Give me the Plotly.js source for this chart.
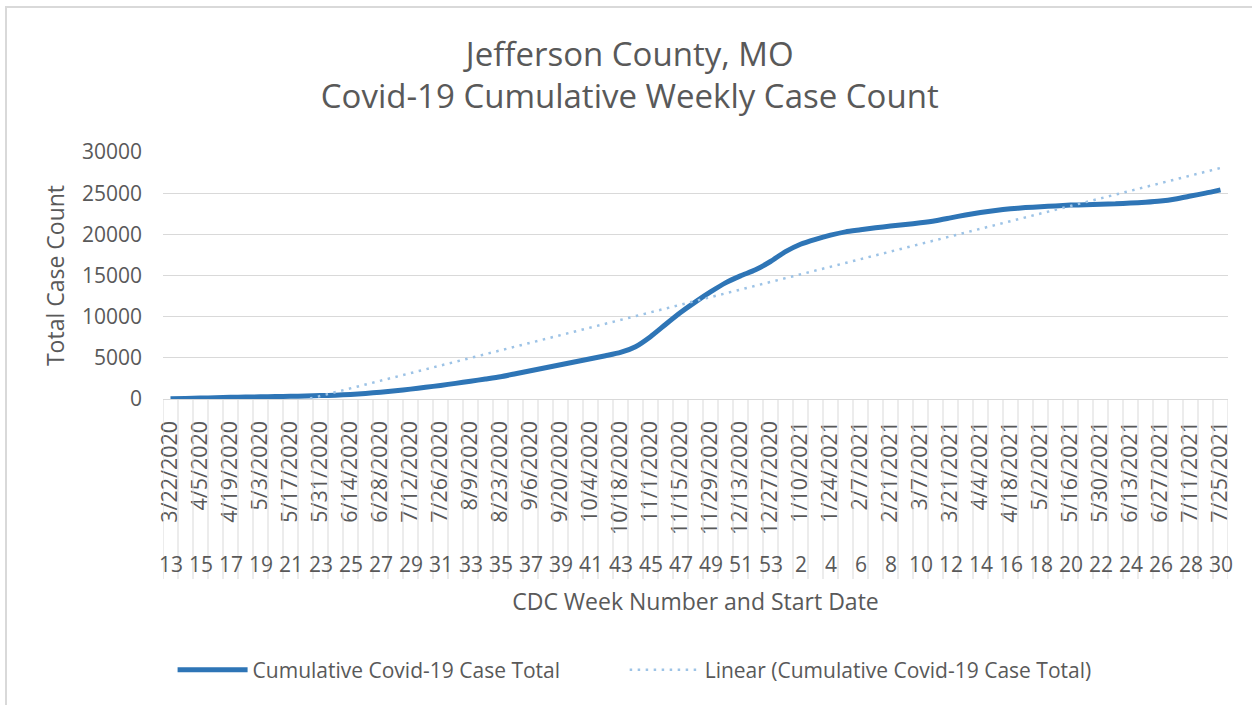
<!DOCTYPE html>
<html>
<head>
<meta charset="utf-8">
<script src="https://cdn.plot.ly/plotly-3.0.1.min.js"></script>
<style>
  html, body { margin: 0; padding: 0; background: #ffffff; overflow: hidden; }
  #chart { width: 1252px; height: 705px; }
  #frame { position: absolute; left: 5px; top: 6px; width: 1270px; height: 720px;
           border: 2px solid #d9d9d9; pointer-events: none; box-sizing: border-box; }
</style>
</head>
<body>
<div id="chart"></div>
<div id="frame"></div>
<script>
// ---- data ----
const startDates = [
  '3/22/2020','3/29/2020','4/5/2020','4/12/2020','4/19/2020','4/26/2020','5/3/2020','5/10/2020',
  '5/17/2020','5/24/2020','5/31/2020','6/7/2020','6/14/2020','6/21/2020','6/28/2020','7/5/2020',
  '7/12/2020','7/19/2020','7/26/2020','8/2/2020','8/9/2020','8/16/2020','8/23/2020','8/30/2020',
  '9/6/2020','9/13/2020','9/20/2020','9/27/2020','10/4/2020','10/11/2020','10/18/2020','10/25/2020',
  '11/1/2020','11/8/2020','11/15/2020','11/22/2020','11/29/2020','12/6/2020','12/13/2020','12/20/2020',
  '12/27/2020',
  '1/3/2021','1/10/2021','1/17/2021','1/24/2021','1/31/2021','2/7/2021','2/14/2021','2/21/2021',
  '2/28/2021','3/7/2021','3/14/2021','3/21/2021','3/28/2021','4/4/2021','4/11/2021','4/18/2021',
  '4/25/2021','5/2/2021','5/9/2021','5/16/2021','5/23/2021','5/30/2021','6/6/2021','6/13/2021',
  '6/20/2021','6/27/2021','7/4/2021','7/11/2021','7/18/2021','7/25/2021'
];
const cdcWeeks = [
  13,14,15,16,17,18,19,20,21,22,23,24,25,26,27,28,29,30,31,32,33,34,35,36,37,38,39,40,
  41,42,43,44,45,46,47,48,49,50,51,52,53,
  1,2,3,4,5,6,7,8,9,10,11,12,13,14,15,16,17,18,19,20,21,22,23,24,25,26,27,28,29,30
];
const cumulativeCases = [
  30,60,110,160,200,230,260,290,320,360,
  410,470,560,680,830,1000,1200,1420,1650,1900,
  2160,2430,2710,3070,3440,3800,4160,4520,4890,5250,
  5650,6350,7570,9050,10500,11800,13000,14100,14950,15700,
  16700,17900,18800,19400,19900,20300,20550,20800,21000,21200,
  21400,21650,22000,22350,22650,22900,23100,23250,23350,23450,
  23550,23600,23650,23700,23800,23900,24050,24300,24650,25000,
  25400
];
const yTicks = [0, 5000, 10000, 15000, 20000, 25000, 30000];
const seriesName = 'Cumulative Covid-19 Case Total';
const trendName = 'Linear (Cumulative Covid-19 Case Total)';

// ---- linear trendline (least squares over category index, as Excel does) ----
const n = cumulativeCases.length;
let sx = 0, sy = 0, sxx = 0, sxy = 0;
cumulativeCases.forEach((v, i) => { const k = i + 1; sx += k; sy += v; sxx += k * k; sxy += k * v; });
const slope = (n * sxy - sx * sy) / (n * sxx - sx * sx);
const intercept = (sy - slope * sx) / n;
const trendValues = cumulativeCases.map((v, i) => intercept + slope * (i + 1));

const FONT = 'Open Sans, Noto Sans, sans-serif';
const TXT = '#595959';

const tickText = startDates.map((d, i) => (i % 2 === 0 ? d : ''));

const traces = [
  {
    x: startDates, y: cumulativeCases, type: 'scatter', mode: 'lines', name: seriesName,
    line: { color: '#2E75B6', width: 5, shape: 'spline', smoothing: 0.6 },
    hoverinfo: 'x+y', legend: 'legend'
  },
  {
    x: startDates, y: trendValues, type: 'scatter', mode: 'lines', name: trendName,
    line: { color: '#9DC3E6', width: 2.5, dash: '2.5px,5.5px' },
    hoverinfo: 'skip', legend: 'legend2'
  }
];

// category boundary tick lines (Excel multi-level axis)
const plotH = 247;
const shapes = [];
for (let i = 0; i <= startDates.length; i++) {
  shapes.push({
    type: 'line', xref: 'x', yref: 'paper', x0: i - 0.5, x1: i - 0.5,
    y0: 0, y1: -(579 - 399) / plotH, line: { color: '#d9d9d9', width: 1 }
  });
}

const annotations = [];
startDates.forEach((d, i) => {
  if (i % 2 === 0) {
    annotations.push({
      x: i, xref: 'x', y: -(564 - 399) / plotH, yref: 'paper',
      text: String(cdcWeeks[i]), showarrow: false, xanchor: 'center', yanchor: 'middle',
      font: { family: FONT, size: 21, color: TXT }
    });
  }
});

const legendCommon = {
  orientation: 'h', xanchor: 'left', y: -(670 - 399) / plotH, yanchor: 'middle',
  font: { family: FONT, size: 21, color: TXT }, itemwidth: 70,
  bgcolor: 'rgba(0,0,0,0)'
};

const layout = {
  width: 1252, height: 705,
  paper_bgcolor: '#ffffff', plot_bgcolor: '#ffffff',
  margin: { l: 163, r: 24, t: 152, b: 306 },
  showlegend: true,
  title: {
    text: 'Jefferson County, MO<br>Covid-19 Cumulative Weekly Case Count',
    font: { family: FONT, size: 33, color: TXT },
    x: 0.503, xanchor: 'center', y: 0.907, yanchor: 'middle'
  },
  xaxis: {
    type: 'category', categoryorder: 'array', categoryarray: startDates,
    range: [-0.5, startDates.length - 0.5],
    tickmode: 'array', tickvals: startDates, ticktext: tickText,
    tickangle: -90, ticks: '', ticklabelstandoff: 12,
    tickfont: { family: FONT, size: 21.5, color: TXT },
    showgrid: false, zeroline: false,
    showline: true, linecolor: '#d9d9d9', linewidth: 1.3,
    automargin: false,
    title: { text: 'CDC Week Number and Start Date', font: { family: FONT, size: 23, color: TXT }, standoff: 60 }
  },
  yaxis: {
    range: [0, 30000], tickmode: 'array', tickvals: yTicks, tickformat: 'd',
    ticks: '', ticklabelstandoff: 20,
    tickfont: { family: FONT, size: 21, color: TXT },
    showgrid: true, gridcolor: '#d9d9d9', gridwidth: 1.3,
    zeroline: false, showline: false, automargin: false,
    title: { text: 'Total Case Count', font: { family: FONT, size: 23, color: TXT }, standoff: 10 }
  },
  legend: Object.assign({}, legendCommon, { x: 0.009 }),
  legend2: Object.assign({}, legendCommon, { x: 0.4335 }),
  shapes: shapes,
  annotations: annotations
};

Plotly.newPlot('chart', traces, layout, { displayModeBar: false, staticPlot: true });
</script>
</body>
</html>
